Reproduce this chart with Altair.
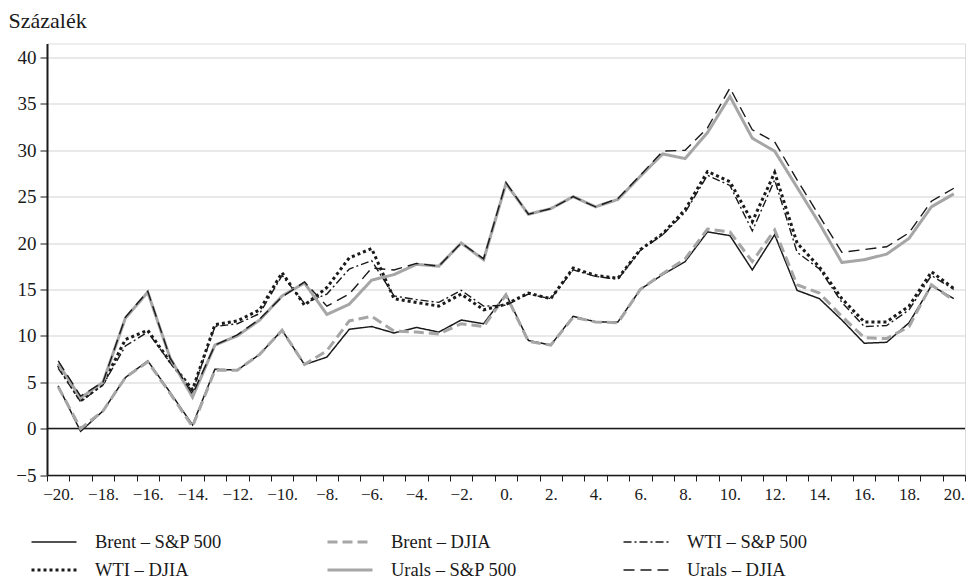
import altair as alt
import pandas as pd

days = list(range(-20, 21))

names = ["Brent – S&P 500", "Brent – DJIA", "WTI – S&P 500",
         "WTI – DJIA", "Urals – S&P 500", "Urals – DJIA"]

brent_sp = [4.6, -0.3, 1.9, 5.5, 7.3, 3.9, 0.4, 6.4, 6.3, 8.0, 10.6, 6.9, 7.7, 10.7, 11.0, 10.3,
            10.9, 10.4, 11.7, 11.3, 14.5, 9.5, 9.0, 12.1, 11.5, 11.5, 15.0, 16.6, 18.0, 21.2, 20.8,
            17.1, 20.9, 14.9, 14.0, 11.7, 9.2, 9.3, 11.4, 15.4, 14.0]
brent_dj = [4.5, 0.0, 1.9, 5.5, 7.2, 3.8, 0.2, 6.3, 6.3, 8.0, 10.6, 6.9, 8.4, 11.6, 12.1, 10.5,
            10.4, 10.2, 11.3, 11.0, 14.4, 9.4, 9.0, 12.0, 11.5, 11.4, 15.0, 16.7, 18.3, 21.5, 21.2,
            18.0, 21.4, 15.5, 14.6, 12.1, 9.8, 9.7, 11.0, 15.5, 13.8]
wti_sp = [6.5, 2.9, 4.7, 8.9, 10.4, 7.1, 4.0, 11.0, 11.3, 12.4, 16.5, 13.5, 14.5, 17.2, 18.1, 14.3,
          13.9, 13.6, 14.9, 13.2, 13.3, 14.5, 14.0, 17.1, 16.4, 16.1, 19.2, 20.9, 23.3, 27.3, 26.2,
          21.3, 26.8, 19.0, 17.2, 13.6, 11.0, 11.1, 12.8, 16.5, 15.0]
wti_dj = [6.8, 3.0, 4.8, 9.6, 10.6, 7.2, 4.2, 11.2, 11.6, 12.8, 16.8, 13.3, 15.2, 18.4, 19.4, 14.0,
          13.6, 13.2, 14.5, 12.8, 13.4, 14.6, 14.0, 17.3, 16.5, 16.2, 19.3, 21.0, 23.6, 27.7, 26.6,
          22.3, 27.6, 20.0, 17.4, 14.0, 11.5, 11.5, 13.2, 16.9, 15.1]
urals_sp = [7.0, 3.3, 5.0, 11.9, 14.7, 7.6, 3.4, 9.0, 10.0, 11.7, 14.3, 15.7, 12.3, 13.4, 16.0, 16.6,
            17.7, 17.5, 20.0, 18.2, 26.4, 23.1, 23.7, 25.0, 23.9, 24.7, 27.2, 29.6, 29.1, 31.9, 35.8,
            31.3, 29.9, 26.0, 22.1, 17.9, 18.2, 18.8, 20.5, 23.9, 25.3]
urals_dj = [7.3, 3.5, 5.0, 12.0, 14.8, 7.6, 3.7, 9.0, 10.1, 11.8, 14.2, 15.8, 13.2, 14.5, 17.3, 17.1,
            17.8, 17.5, 20.0, 18.3, 26.5, 23.1, 23.7, 25.0, 23.9, 24.8, 27.3, 29.9, 30.0, 32.4, 36.7,
            32.2, 30.9, 26.8, 22.9, 19.0, 19.3, 19.6, 21.1, 24.5, 25.9]

values = [brent_sp, brent_dj, wti_sp, wti_dj, urals_sp, urals_dj]

y_ticks = [-5, 0, 5, 10, 15, 20, 25, 30, 35, 40]
zero_line = [0]

colors = ["#1a1a1a", "#a6a6a6", "#1a1a1a", "#1a1a1a", "#a6a6a6", "#1a1a1a"]
dashes = [[1, 0], [10, 5], [8, 3, 2, 3], [3, 3], [1, 0], [11, 6]]
widths = [1.5, 3, 1.4, 3, 3, 1.4]

rows = []
for name, vals in zip(names, values):
    for d, v in zip(days, vals):
        rows.append({"day": d, "value": v, "series": name})
df = pd.DataFrame(rows)
zdf = pd.DataFrame({"v": zero_line})

FONT = "Liberation Serif"

leg = alt.Legend(
    title=None, orient="none", legendX=-17, legendY=487, columns=3,
    direction="horizontal",
    symbolType="stroke", symbolSize=2025, labelFont=FONT, labelFontSize=18.5,
    labelColor="#1a1a1a", labelOffset=17, columnPadding=104, rowPadding=5,
    gridAlign="all", clipHeight=23, labelLimit=300,
)

x_enc = alt.X(
    "day:O", bandPosition=0.5,
    scale=alt.Scale(type="band", domain=days, paddingInner=0, paddingOuter=0),
    axis=alt.Axis(
        title=None, tickBand="extent", labelAngle=0, labelOverlap=False,
        labelExpr="datum.value % 2 == 0 ? replace(datum.value + '.', '-', '−') : ''",
        labelFont=FONT, labelFontSize=17, labelColor="#1a1a1a",
        tickSize=6, tickColor="#1a1a1a", tickWidth=1,
        domainColor="#1a1a1a", domainWidth=1.5, labelPadding=5, grid=False,
    ),
)

y_enc = alt.Y(
    "value:Q",
    scale=alt.Scale(domain=[-5, 41.5], nice=False, zero=False),
    axis=alt.Axis(
        values=y_ticks, title="Százalék", titleAngle=0, titleAlign="left",
        titleBaseline="middle", titleX=-39, titleY=-23, titleFont=FONT,
        titleFontSize=22, titleFontWeight="normal", titleColor="#1a1a1a",
        labelExpr="replace(datum.label, '-', '−')",
        labelFont=FONT, labelFontSize=19, labelColor="#1a1a1a",
        tickSize=7, tickColor="#1a1a1a", tickWidth=1, labelPadding=4,
        domainColor="#1a1a1a", domainWidth=2,
        grid=True, gridColor="#d4d4d4", gridWidth=1.2,
    ),
)

lines = alt.Chart(df).mark_line().encode(
    x=x_enc,
    y=y_enc,
    color=alt.Color("series:N", scale=alt.Scale(domain=names, range=colors), legend=leg),
    strokeDash=alt.StrokeDash("series:N", scale=alt.Scale(domain=names, range=dashes), legend=leg),
    strokeWidth=alt.StrokeWidth("series:N",
                                scale=alt.Scale(type="ordinal", domain=names, range=widths),
                                legend=leg),
)

zero = alt.Chart(zdf).mark_rule(color="#1a1a1a", strokeWidth=1.5).encode(y="v:Q")

chart = alt.layer(zero, lines).properties(
    width=918, height=431.5,
    autosize=alt.AutoSizeParams(type="none"),
    padding={"left": 39, "top": 35.5, "right": 1, "bottom": 106},
).configure_view(strokeWidth=0).configure(background="white")

chart.save("out.html", embed_options={"renderer": "svg", "actions": False})
